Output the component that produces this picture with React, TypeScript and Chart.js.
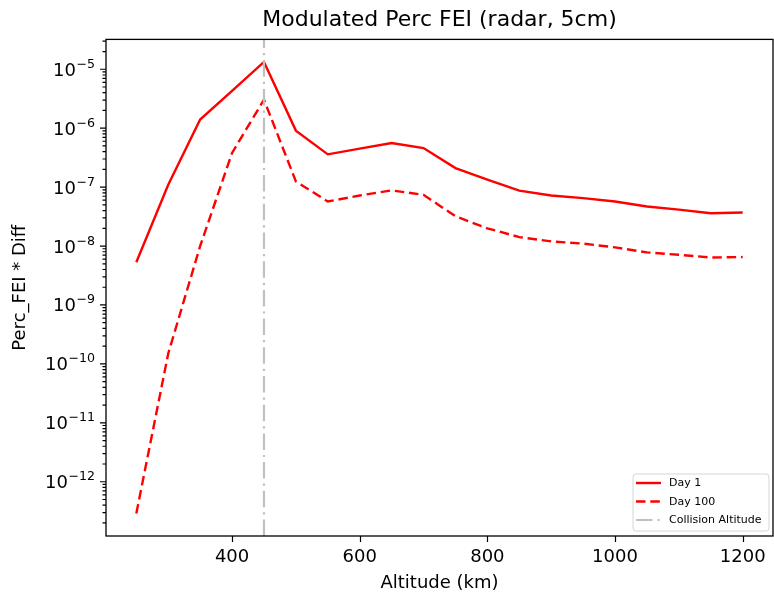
import React, { useEffect, useRef } from 'react';
import { Chart, registerables } from 'chart.js';

Chart.register(...registerables);

// ---- data ----
const altitudes = [250, 300, 350, 400, 450, 500, 550, 600, 650, 700, 750, 800, 850, 900, 950, 1000, 1050, 1100, 1150, 1200];
const day1 = [5.3e-9, 1.1e-7, 1.4e-6, 4.3e-6, 1.33e-5, 9.1e-7, 3.6e-7, 4.5e-7, 5.6e-7, 4.6e-7, 2.1e-7, 1.34e-7, 8.7e-8, 7.2e-8, 6.5e-8, 5.7e-8, 4.7e-8, 4.15e-8, 3.6e-8, 3.7e-8];
const day100 = [2.9e-13, 1.5e-10, 1.0e-8, 3.8e-7, 3.05e-6, 1.25e-7, 5.7e-8, 7.2e-8, 8.8e-8, 7.4e-8, 3.2e-8, 2.0e-8, 1.42e-8, 1.2e-8, 1.1e-8, 9.5e-9, 7.8e-9, 7.1e-9, 6.4e-9, 6.5e-9];
const collisionAltitude = 450;
const xTickValues = [400, 600, 800, 1000, 1200];
const seriesLabels = ['Day 1', 'Day 100', 'Collision Altitude'];
const titleText = 'Modulated Perc FEI (radar, 5cm)';
const xTitle = 'Altitude (km)';
const yTitle = 'Perc_FEI * Diff';

const FONT = "'DejaVu Sans', sans-serif";

// matplotlib-like 5% margins
const xMinData = Math.min(...altitudes);
const xMaxData = Math.max(...altitudes);
const xPad = (xMaxData - xMinData) * 0.05;
const allY = [...day1, ...day100];
const lMin = Math.log10(Math.min(...allY));
const lMax = Math.log10(Math.max(...allY));
const lPad = (lMax - lMin) * 0.05;
const yMin = Math.pow(10, lMin - lPad);
const yMax = Math.pow(10, lMax + lPad);

const RED = '#ff0000';
const GRAY = '#c0c0c0';
const SOLID: number[] = [];
const DASHED = [9.5, 4.8];
const DASHDOT = [16.5, 5, 2.2, 5];

const styles = [
  { color: RED, dash: SOLID, width: 2.4 },
  { color: RED, dash: DASHED, width: 2.4 },
  { color: GRAY, dash: DASHDOT, width: 2.2 },
];

const framePlugin = {
  id: 'framePlugin',
  afterDraw(chart: any) {
    const { ctx, chartArea } = chart;
    const xs = chart.scales.x;
    const ys = chart.scales.y;
    ctx.save();
    // frame
    ctx.strokeStyle = '#000';
    ctx.lineWidth = 1.3;
    ctx.setLineDash([]);
    ctx.strokeRect(chartArea.left, chartArea.top, chartArea.right - chartArea.left, chartArea.bottom - chartArea.top);
    // tick marks
    ctx.lineWidth = 1.2;
    ctx.beginPath();
    xs.ticks.forEach((t: any) => {
      const px = Math.round(xs.getPixelForValue(t.value)) + 0.5;
      ctx.moveTo(px, chartArea.bottom);
      ctx.lineTo(px, chartArea.bottom + 6);
    });
    ys.ticks.forEach((t: any) => {
      const py = ys.getPixelForValue(t.value);
      const len = t.major ? 6 : 3.5;
      ctx.moveTo(chartArea.left, py);
      ctx.lineTo(chartArea.left - len, py);
    });
    ctx.stroke();

    // y tick labels: 10 with superscript exponent (mathtext-like)
    ctx.fillStyle = '#000';
    ctx.textBaseline = 'alphabetic';
    ctx.textAlign = 'left';
    const baseFont = `18px ${FONT}`;
    const supFont = `12.6px ${FONT}`;
    ys.ticks.forEach((t: any) => {
      if (!t.major) return;
      const py = ys.getPixelForValue(t.value);
      const expStr = '\u2212' + String(Math.abs(t.exp));
      ctx.font = supFont;
      const wSup = ctx.measureText(expStr).width;
      ctx.font = baseFont;
      const wBase = ctx.measureText('10').width;
      const right = chartArea.left - 11;
      const x0 = right - wSup - wBase - 0.5;
      const baseY = py + 6.5;
      ctx.fillText('10', x0, baseY);
      ctx.font = supFont;
      ctx.fillText(expStr, x0 + wBase + 0.5, baseY - 8);
    });

    // legend (lower right, inside plot)
    const bw = 136;
    const bh = 57;
    const bx = chartArea.right - 4 - bw;
    const by = chartArea.bottom - 5 - bh;
    const r = 3;
    ctx.beginPath();
    ctx.moveTo(bx + r, by);
    ctx.lineTo(bx + bw - r, by);
    ctx.quadraticCurveTo(bx + bw, by, bx + bw, by + r);
    ctx.lineTo(bx + bw, by + bh - r);
    ctx.quadraticCurveTo(bx + bw, by + bh, bx + bw - r, by + bh);
    ctx.lineTo(bx + r, by + bh);
    ctx.quadraticCurveTo(bx, by + bh, bx, by + bh - r);
    ctx.lineTo(bx, by + r);
    ctx.quadraticCurveTo(bx, by, bx + r, by);
    ctx.closePath();
    ctx.fillStyle = 'rgba(255,255,255,0.8)';
    ctx.fill();
    ctx.strokeStyle = '#d6d6d6';
    ctx.lineWidth = 1;
    ctx.stroke();

    const rowYs = [by + 9, by + 27.5, by + 46];
    ctx.font = `11px ${FONT}`;
    ctx.textBaseline = 'middle';
    ctx.textAlign = 'left';
    chart.data.datasets.forEach((ds: any, i: number) => {
      const y = rowYs[i];
      ctx.beginPath();
      ctx.strokeStyle = ds.borderColor;
      ctx.lineWidth = ds.borderWidth;
      ctx.setLineDash(ds.borderDash || []);
      ctx.moveTo(bx + 3, y);
      ctx.lineTo(bx + 28, y);
      ctx.stroke();
      ctx.setLineDash([]);
      ctx.fillStyle = '#000';
      ctx.fillText(ds.label, bx + 36, y + 0.5);
    });
    ctx.restore();
  },
};

export default function App() {
  const ref = useRef<HTMLCanvasElement | null>(null);

  useEffect(() => {
    document.body.style.margin = '0';
    const canvas = ref.current;
    if (!canvas) return;
    Chart.defaults.font.family = FONT;
    Chart.defaults.color = '#000';

    const seriesData = [
      altitudes.map((a, i) => ({ x: a, y: day1[i] })),
      altitudes.map((a, i) => ({ x: a, y: day100[i] })),
      [
        { x: collisionAltitude, y: yMin },
        { x: collisionAltitude, y: yMax },
      ],
    ];

    const zeroPad = (scale: any) => {
      scale.paddingLeft = 0;
      scale.paddingRight = 0;
      scale.paddingTop = 0;
      scale.paddingBottom = 0;
    };

    const chart = new Chart(canvas, {
      type: 'line',
      data: {
        datasets: seriesData.map((d, i) => ({
          label: seriesLabels[i],
          data: d,
          borderColor: styles[i].color,
          backgroundColor: styles[i].color,
          borderWidth: styles[i].width,
          borderDash: styles[i].dash,
          pointRadius: 0,
          tension: 0,
          fill: false,
          order: 2 - i,
        })),
      },
      options: {
        animation: false,
        responsive: false,
        parsing: false as any,
        layout: { padding: { left: 0, right: 1, top: 0, bottom: 0 } },
        plugins: {
          legend: { display: false },
          tooltip: { enabled: false },
          title: {
            display: true,
            text: titleText,
            fullSize: false,
            color: '#000',
            font: { size: 22, weight: 'normal', family: FONT },
            padding: { top: 7, bottom: 6 },
          },
        },
        scales: {
          x: {
            type: 'linear',
            min: xMinData - xPad,
            max: xMaxData + xPad,
            bounds: 'data',
            grid: { display: false, drawTicks: false },
            border: { display: false },
            afterBuildTicks: (scale: any) => {
              scale.ticks = xTickValues.map((v) => ({ value: v }));
            },
            afterFit: (scale: any) => {
              scale.height = 62;
              zeroPad(scale);
            },
            ticks: {
              autoSkip: false,
              maxRotation: 0,
              padding: 11,
              color: '#000',
              font: { size: 18, family: FONT },
              callback: (v: any) => String(v),
            },
            title: {
              display: true,
              text: xTitle,
              color: '#000',
              font: { size: 18, family: FONT },
              padding: { top: 0, bottom: 4 },
            },
          },
          y: {
            type: 'logarithmic',
            min: yMin,
            max: yMax,
            bounds: 'data',
            grid: { display: false, drawTicks: false },
            border: { display: false },
            afterBuildTicks: (scale: any) => {
              const ticks: any[] = [];
              for (let e = -15; e <= -3; e++) {
                for (let m = 1; m <= 9; m++) {
                  const v = m === 1 ? Math.pow(10, e) : m * Math.pow(10, e);
                  if (v >= scale.min && v <= scale.max) ticks.push({ value: v, major: m === 1, exp: e });
                }
              }
              scale.ticks = ticks;
            },
            afterFit: (scale: any) => {
              scale.width = 106;
              zeroPad(scale);
            },
            ticks: {
              autoSkip: false,
              padding: 12,
              color: '#000',
              font: { size: 18, family: FONT },
              // labels are drawn by framePlugin with a raised exponent
              callback: () => '',
            },
            title: {
              display: true,
              text: yTitle,
              color: '#000',
              font: { size: 18, family: FONT },
              padding: { top: 10, bottom: 0 },
            },
          },
        },
      },
      plugins: [framePlugin],
    } as any);

    return () => {
      chart.destroy();
    };
  }, []);

  return (
    <div style={{ width: 774, height: 598 }}>
      <canvas ref={ref} width={774} height={598} style={{ display: 'block', width: 774, height: 598 }} />
    </div>
  );
}
